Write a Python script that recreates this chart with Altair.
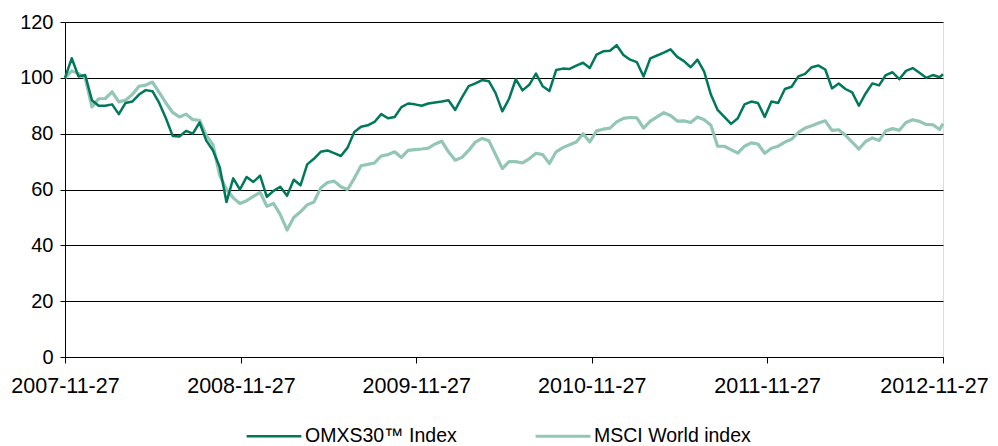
import altair as alt
import pandas as pd

# biweekly observation dates (plus the final date)
start_date = "2007-11-27"
n_biweekly = 131
final_date = "2012-11-27"

series_names = ["OMXS30\u2122 Index", "MSCI World index"]
series_colors = ["#00785a", "#93c6b4"]

omx_values = [
    100, 107, 100.5, 101, 92, 90, 90, 90.5, 87, 91,
    91.5, 94, 95.6, 95.2, 91, 85.5, 79.2, 79, 81, 80,
    84, 77.5, 74, 68, 55.5, 64, 60, 64.5, 62.7, 65,
    57.4, 59.5, 61, 57.8, 63.5, 61.5, 69, 71, 73.5, 74,
    73, 72, 75, 80.6, 82.5, 83, 84.2, 87, 85.5, 86,
    89.5, 90.8, 90.5, 90, 90.8, 91.2, 91.5, 92, 88.5, 93,
    97, 98, 99.2, 98.8, 94.5, 88, 92.5, 99.5, 95.5, 97.5,
    101.5, 97, 95.3, 102.8, 103.3, 103.2, 104.4, 105.4, 103.5, 108.3,
    109.5, 109.7, 111.7, 108.2, 106.5, 105.6, 100.5, 107, 108, 109,
    110.2, 107.5, 106, 103.8, 106.5, 102.2, 94, 88.5, 86, 83.5,
    85.5, 90.5, 91.5, 91, 86, 91.5, 91, 96, 96.8, 100.5,
    101.4, 103.8, 104.4, 103, 96.2, 98, 96, 94.8, 90, 94.4,
    98, 97.3, 101, 102, 99.5, 102.5, 103.5, 101.8, 100, 101,
    100.2, 101.3,
]

msci_values = [
    100, 102.5, 101.5, 100, 89.6, 92.5, 92.6, 95, 91.4, 92,
    94, 97, 97.4, 98.5, 94.8, 91, 87.6, 86, 87, 85,
    84.8, 79.4, 76, 65, 60, 57, 55, 56, 57.5, 59,
    54, 55, 51, 45.5, 50, 52, 54.5, 55.5, 60.5, 62.5,
    63, 61, 60, 64, 68.5, 69, 69.5, 72, 72.5, 73.5,
    71.5, 74, 74.3, 74.5, 74.8, 76.3, 77.3, 73.5, 70.5, 71.5,
    74, 77, 78.3, 77.5, 72.5, 67.5, 70, 70, 69.5, 71,
    73, 72.5, 69.3, 73.5, 75, 76, 77, 80, 77, 81,
    81.6, 82, 84.2, 85.5, 85.8, 85.7, 82, 84.5, 86, 87.5,
    86.5, 84.5, 84.6, 84, 86, 85, 83, 75.5, 75.5, 74.3,
    73, 75.5, 76.7, 76.3, 73, 74.8, 75.5, 77, 78, 80.5,
    82, 82.8, 83.8, 84.6, 81.2, 81.4, 79.4, 77, 74.5, 77.2,
    78.5, 77.5, 81, 81.8, 81.2, 84, 85, 84.4, 83.3, 83.2,
    81.5, 83.6,
]

tick_dates = ["2007-11-27", "2008-11-27", "2009-11-27", "2010-11-27", "2011-11-27", "2012-11-27"]
y_ticks = [0, 20, 40, 60, 80, 100, 120]

dates = list(pd.date_range(start_date, periods=n_biweekly, freq="14D")) + [pd.Timestamp(final_date)]

rows = []
# MSCI first so the dark OMX line is drawn on top
for d, v in zip(dates, msci_values):
    rows.append({"date": d, "value": v, "series": series_names[1]})
for d, v in zip(dates, omx_values):
    rows.append({"date": d, "value": v, "series": series_names[0]})
df = pd.DataFrame(rows)

def dt(s):
    y, m, d = [int(p) for p in s.split("-")]
    return alt.DateTime(year=y, month=m, date=d)

FONT = "Liberation Sans, Arial, sans-serif"
last_year = int(tick_dates[-1][:4])

chart = alt.Chart(df).mark_line(strokeJoin="round").encode(
    x=alt.X(
        "date:T",
        scale=alt.Scale(domain=[dt(tick_dates[0]), dt(tick_dates[-1])], nice=False),
        axis=alt.Axis(
            values=[dt(s) for s in tick_dates],
            format="%Y-%m-%d",
            title=None,
            grid=False,
            domainColor="#000000",
            tickColor="#000000",
            tickSize=6,
            labelPadding=12,
            labelFontSize=21.5,
            labelFont=FONT,
            labelColor="#000000",
            labelFlush=False,
            labelOverlap=False,
            labelOffset={
                "condition": {"test": f"year(datum.value) == {last_year}", "value": -9},
                "value": 0,
            },
        ),
    ),
    y=alt.Y(
        "value:Q",
        scale=alt.Scale(domain=[0, 120], nice=False),
        axis=alt.Axis(
            values=y_ticks,
            title=None,
            grid=True,
            gridColor="#000000",
            gridWidth=1,
            domainColor="#000000",
            tickColor="#000000",
            tickSize=5,
            labelPadding=7,
            labelFontSize=20,
            labelFont=FONT,
            labelColor="#000000",
        ),
    ),
    color=alt.Color(
        "series:N",
        scale=alt.Scale(domain=series_names, range=series_colors),
        legend=alt.Legend(
            title=None,
            orient="none",
            direction="horizontal",
            legendX=180,
            legendY=385,
            symbolType="stroke",
            symbolSize=3000,
            symbolStrokeWidth=4,
            labelFontSize=19.5,
            labelFont=FONT,
            labelColor="#000000",
            labelOffset=2,
            columnPadding=72,
        ),
    ),
    strokeWidth=alt.StrokeWidth(
        "series:N",
        scale=alt.Scale(domain=series_names, range=[2.5, 3.2]),
        legend=None,
    ),
).properties(
    width=878,
    height=335,
    autosize=alt.AutoSizeParams(type="none"),
    padding={"left": 57, "top": 14, "right": 47, "bottom": 89},
).configure_view(stroke=None).configure(background="white")

chart.save("out.html", embed_options={"renderer": "svg", "actions": False})
